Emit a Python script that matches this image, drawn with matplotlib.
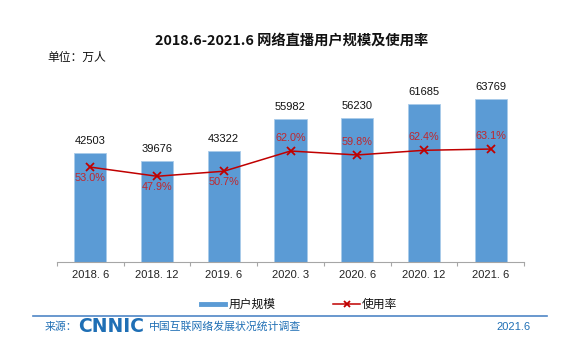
import matplotlib
matplotlib.use("Agg")
import matplotlib.pyplot as plt
from matplotlib.lines import Line2D

plt.rcParams['font.family'] = ['Noto Sans CJK SC', 'DejaVu Sans']
NUM_FONT = ['Liberation Sans', 'DejaVu Sans']

categories = ["2018. 6", "2018. 12", "2019. 6", "2020. 3", "2020. 6", "2020. 12", "2021. 6"]
users = [42503, 39676, 43322, 55982, 56230, 61685, 63769]
rates = [53.0, 47.9, 50.7, 62.0, 59.8, 62.4, 63.1]
rate_labels = ["53.0%", "47.9%", "50.7%", "62.0%", "59.8%", "62.4%", "63.1%"]
label_below = [True, True, True, False, False, False, False]

W, H = 565, 350
fig = plt.figure(figsize=(W / 100, H / 100), dpi=100)

left, right, bottom, top = 57, 524, 262, 83
ax = fig.add_axes([left / W, 1 - bottom / H, (right - left) / W, (bottom - top) / H])
ax.patch.set_alpha(0)
xs = list(range(len(categories)))
ax.bar(xs, users, width=0.48, color='#5B9BD5', edgecolor='#A9CBEA', linewidth=0.6, zorder=2)
ax.set_xlim(-0.5, len(categories) - 0.5)
ax.set_ylim(0, 70000)
ax.set_yticks([])
for s in ['left', 'right', 'top']:
    ax.spines[s].set_visible(False)
ax.spines['bottom'].set_color('#a6a6a6')
ax.set_xticks([i + 0.5 for i in xs[:-1]] + [-0.5, len(categories) - 0.5], minor=False)
ax.set_xticklabels([])
ax.tick_params(axis='x', length=3, color='#a6a6a6', direction='out')
for i, c in enumerate(categories):
    ax.annotate(c, (i, 0), xytext=(0, -9.5), textcoords='offset points', ha='center',
                va='center', fontsize=8, color='#222222', family=NUM_FONT)
for i, v in enumerate(users):
    ax.annotate(str(v), (i, v), xytext=(0, 5), textcoords='offset points',
                ha='center', va='bottom', fontsize=8, color='#111111', family=NUM_FONT)

ax2 = ax.twinx()
ax2.set_ylim(0, 100)
ax2.axis('off')
ax2.plot(xs, rates, color='#C00000', linewidth=1.1, marker='x', markersize=6,
         markeredgewidth=1.3, zorder=3)
for i, (r, lab, below) in enumerate(zip(rates, rate_labels, label_below)):
    if below:
        ax2.annotate(lab, (i, r), xytext=(0, -4), textcoords='offset points',
                     ha='center', va='top', fontsize=7.8, color='#C0272D', family=NUM_FONT)
    else:
        ax2.annotate(lab, (i, r), xytext=(0, 6), textcoords='offset points',
                     ha='center', va='bottom', fontsize=7.8, color='#C0272D', family=NUM_FONT)

fig.text(292 / W, 1 - 41 / H, "2018.6-2021.6 网络直播用户规模及使用率", ha='center', va='center',
         fontsize=10.3, fontweight='bold', color='#111111')
fig.text(47 / W, 1 - 57 / H, "单位：万人", ha='left', va='center', fontsize=8.5, color='#111111')

# legend
ly = 1 - 304 / H
fig.add_artist(Line2D([201 / W, 225 / W], [ly] * 2, color='#5B9BD5', linewidth=3.5))
fig.text(229 / W, ly, "用户规模", ha='left', va='center', fontsize=8.5, color='#111111')
fig.add_artist(Line2D([333 / W, 360 / W], [ly] * 2, color='#C00000', linewidth=1.1))
fig.add_artist(Line2D([347 / W], [ly], color='#C00000', marker='x', markersize=5,
                      markeredgewidth=1.3, linestyle='none'))
fig.text(362 / W, ly, "使用率", ha='left', va='center', fontsize=8.5, color='#111111')

# footer
fy = 1 - 327 / H
fig.add_artist(Line2D([33 / W, 547 / W], [1 - 316 / H] * 2, color='#4F86C6', linewidth=1.2))
fig.text(45 / W, fy, "来源：", ha='left', va='center', fontsize=7.8, color='#1F6FB5')
fig.text(78 / W, fy, "CNNIC", ha='left', va='center', fontsize=13.5, fontweight='heavy',
         color='#1F6FB5', family='DejaVu Sans')
fig.text(149 / W, fy, "中国互联网络发展状况统计调查", ha='left', va='center', fontsize=7.8,
         color='#1F6FB5')
fig.text(531 / W, fy, "2021.6", ha='right', va='center', fontsize=8, color='#1F6FB5',
         family=NUM_FONT)

fig.savefig("out.png", dpi=100)
